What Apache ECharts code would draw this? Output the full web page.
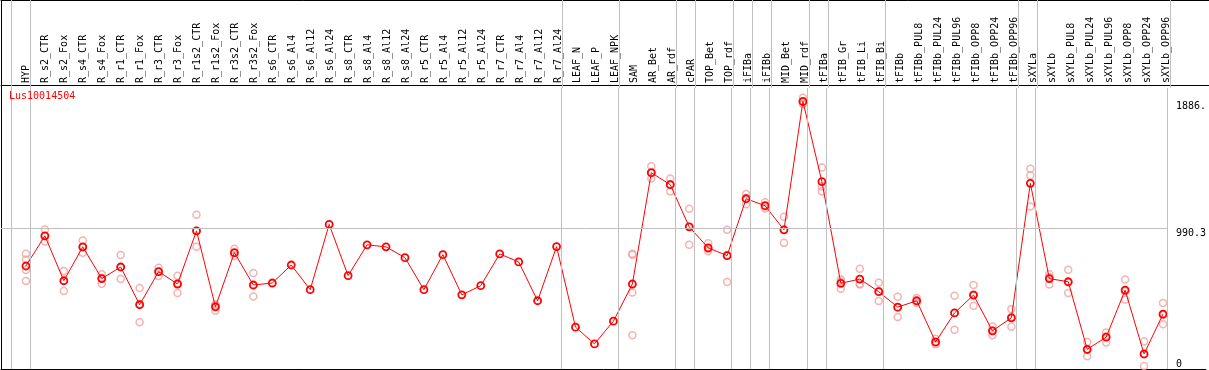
<!DOCTYPE html>
<html><head><meta charset="utf-8">
<script src="https://cdn.jsdelivr.net/npm/echarts@6/dist/echarts.min.js"></script>
<style>html,body{margin:0;padding:0;background:#fff}#c{width:1209px;height:370px}</style>
</head><body><div id="c"></div>
<script>
const chartTitle = 'Lus10014504';
const categories = ['HYP','R_s2_CTR','R_s2_Fox','R_s4_CTR','R_s4_Fox','R_r1_CTR','R_r1_Fox','R_r3_CTR','R_r3_Fox','R_r1s2_CTR','R_r1s2_Fox','R_r3s2_CTR','R_r3s2_Fox','R_s6_CTR','R_s6_Al4','R_s6_Al12','R_s6_Al24','R_s8_CTR','R_s8_Al4','R_s8_Al12','R_s8_Al24','R_r5_CTR','R_r5_Al4','R_r5_Al12','R_r5_Al24','R_r7_CTR','R_r7_Al4','R_r7_Al12','R_r7_Al24','LEAF_N','LEAF_P','LEAF_NPK','SAM','AR_Bet','AR_rdf','cPAR','TOP_Bet','TOP_rdf','iFIBa','iFIBb','MID_Bet','MID_rdf','tFIBa','tFIB_Gr','tFIB_Li','tFIB_Bi','tFIBb','tFIBb_PUL8','tFIBb_PUL24','tFIBb_PUL96','tFIBb_OPP8','tFIBb_OPP24','tFIBb_OPP96','sXYLa','sXYLb','sXYLb_PUL8','sXYLb_PUL24','sXYLb_PUL96','sXYLb_OPP8','sXYLb_OPP24','sXYLb_OPP96'];
const means = [726,939,622,861,637,719,453,686,599,974,438,820,592,606,733,559,1019,658,875,861,785,559,806,523,587,811,755,481,863,295,177,337,599,1384,1299,1002,854,799,1200,1151,981,1886.3,1321,604,634,545,436,481,191,395,521,269,361,1309,637,615,139,224,556,106,387];
const replicates = [
 [813,771,698,620],[983,935,898],[691,622,550],[905,858,820],[667,641,601],[804,719,634],[571,458,330],[714,688,656],[658,604,535],[1087,974,861],[457,447,410],[847,816,797],[677,588,511],
 [],[],[],[],[],[],[],[],[],[],[],[],[],[],[],[],[],[],[],
 [813,805,540,238],[1429,1381,1342],[1342,1303,1252],[1130,1002,875],[886,846,830],[981,803,613],[1233,1205,1162],[1176,1145,1132],[1073,981,889],[1912,1880,1867],[1420,1287,1252],
 [630,616,566],[707,600,596],[608,548,479],[509,433,366],[500,478,465],[214,184,175],[516,394,276],[592,525,446],[299,270,238],[422,364,297],
 [1412,1363,1146],[667,648,596],[700,610,535],[191,136,90],[257,229,186],[630,548,490],[193,103,21],[465,380,316]
];
const groupStarts = [0,1,29,32,35,36,38,39,40,42,43,46,53,54,61];

const FONT = 'DejaVu Sans Mono';
const maxMean = Math.max(...means);
const yMax = +(maxMean * 1.05).toFixed(1);
const yMid = +(yMax / 2).toFixed(1);
const xMin = -25 / 19, xMax = xMin + 1208 / 19;
const sepOffset = 0.7632;

const meanData = means.map((v, i) => [i, v]);
const repData = [];
replicates.forEach((arr, i) => arr.forEach(v => repData.push([i, v])));
const sepLines = groupStarts.map(k => ({ xAxis: k - sepOffset }));
const mlBase = { silent: true, symbol: 'none', label: { show: false }, animation: false,
  lineStyle: { color: '#c0c0c0', width: 1, type: 'solid' }, emphasis: { disabled: true } };
const black = { show: true, onZero: false, lineStyle: { color: '#000', width: 1 } };
const noLine = { show: false, onZero: false };
const hidden = { axisTick: { show: false }, axisLabel: { show: false }, splitLine: { show: false } };

const chart = echarts.init(document.getElementById('c'), null, { renderer: 'canvas' });
chart.setOption({
  animation: false,
  title: { text: chartTitle, left: 9, top: 91, padding: 0,
    textStyle: { color: '#ff0000', fontFamily: FONT, fontSize: 10, fontWeight: 'normal' } },
  grid: [ { left: 1, right: 0, top: 0, height: 88 }, { left: 1, right: 0, top: 88, bottom: 1 } ],
  xAxis: [
    Object.assign({ gridIndex: 0, type: 'value', min: xMin, max: xMax, position: 'top', axisLine: black }, hidden),
    { gridIndex: 0, type: 'value', min: xMin, max: xMax, position: 'bottom', offset: -3, axisLine: black,
      axisTick: { show: false }, splitLine: { show: false },
      axisLabel: { inside: true, rotate: 90, margin: 2, customValues: categories.map((c, i) => i),
        formatter: v => categories[Math.round(v)] || '', fontFamily: FONT, fontSize: 10, color: '#000', hideOverlap: false } },
    Object.assign({ gridIndex: 1, type: 'value', min: xMin, max: xMax, position: 'bottom', axisLine: black }, hidden)
  ],
  yAxis: [
    Object.assign({ gridIndex: 0, type: 'value', min: 0, max: 1, position: 'left', axisLine: black }, hidden),
    Object.assign({ gridIndex: 1, type: 'value', min: 0, max: yMax, position: 'left', axisLine: black }, hidden),
    { gridIndex: 1, type: 'value', min: 0, max: yMax, position: 'right', axisLine: noLine, axisTick: { show: false }, splitLine: { show: false },
      axisLabel: { inside: true, align: 'left', margin: 30, verticalAlign: 'top', customValues: [yMid, maxMean],
        formatter: v => String(v).slice(0, 5), fontFamily: FONT, fontSize: 10, color: '#000' } },
    { gridIndex: 1, type: 'value', min: 0, max: yMax, position: 'right', axisLine: noLine, axisTick: { show: false }, splitLine: { show: false },
      axisLabel: { inside: true, align: 'left', margin: 30, verticalAlign: 'bottom', customValues: [0],
        formatter: v => String(v), fontFamily: FONT, fontSize: 10, color: '#000' } }
  ],
  series: [
    { type: 'line', xAxisIndex: 0, yAxisIndex: 0, data: [], silent: true, z: 1,
      markLine: Object.assign({}, mlBase, { data: sepLines }) },
    { type: 'line', xAxisIndex: 2, yAxisIndex: 1, data: [], silent: true, z: 1,
      markLine: Object.assign({}, mlBase, { data: sepLines.concat([[ { coord: [xMin, yMid] }, { coord: [groupStarts[groupStarts.length - 1] - sepOffset, yMid] } ]]) }) },
    { type: 'scatter', xAxisIndex: 2, yAxisIndex: 1, data: repData, symbol: 'circle', symbolSize: 7, silent: true, z: 2,
      itemStyle: { color: 'rgba(0,0,0,0)', borderColor: '#f0a0a0', borderWidth: 1.5 } },
    { type: 'line', xAxisIndex: 2, yAxisIndex: 1, data: meanData, symbol: 'circle', symbolSize: 7, showAllSymbol: true, silent: true, z: 3,
      lineStyle: { color: '#ff0000', width: 1 },
      itemStyle: { color: 'rgba(0,0,0,0)', borderColor: '#ff0000', borderWidth: 1.8 } }
  ]
});
</script></body></html>
